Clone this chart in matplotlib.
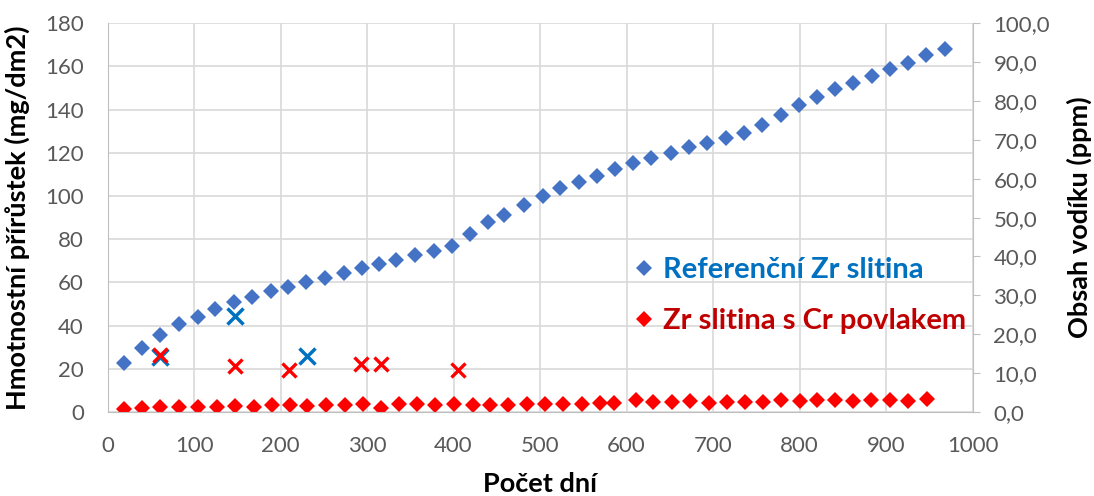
import matplotlib.pyplot as plt
from matplotlib.ticker import FuncFormatter

plt.rcParams['font.family'] = ['Lato', 'DejaVu Sans']

# hmotnostni prirustek - referencni Zr slitina
ref_days = [19, 40, 61, 83, 104, 124, 146, 167, 189, 209, 230, 251, 273, 294, 314,
            334, 356, 377, 398, 419, 440, 458, 482, 503, 523, 545, 566, 587, 607,
            628, 651, 672, 693, 715, 736, 757, 779, 799, 820, 841, 862, 884, 905,
            925, 946, 968]
ref_gain = [22.5, 29.8, 35.6, 40.7, 44.1, 47.8, 50.9, 53.2, 55.9, 57.7, 60.0, 62.2,
            64.2, 66.5, 68.5, 70.4, 72.5, 74.7, 77.0, 82.5, 87.8, 91.2, 95.8, 100.0,
            103.6, 106.3, 109.4, 112.3, 115.1, 117.4, 119.8, 122.5, 124.7, 126.7,
            129.3, 132.9, 137.5, 142.1, 145.7, 149.4, 152.5, 155.7, 158.8, 161.7,
            165.3, 167.9]

# hmotnostni prirustek - Zr slitina s Cr povlakem
cr_days = [19, 40, 61, 83, 104, 126, 147, 169, 190, 211, 231, 253, 275, 295, 316,
           337, 358, 379, 401, 422, 442, 463, 485, 506, 526, 548, 569, 586, 611,
           631, 653, 673, 695, 716, 737, 758, 779, 800, 820, 841, 862, 883, 905,
           925, 947]
cr_gain = [1.2, 1.7, 2.2, 2.2, 2.5, 2.5, 2.8, 2.5, 3.1, 3.1, 2.8, 3.4, 3.4, 3.7, 2.0,
           3.7, 3.7, 3.4, 3.7, 3.4, 3.3, 3.4, 3.9, 3.9, 3.9, 3.9, 4.3, 4.3, 5.6,
           4.5, 4.5, 5.1, 4.3, 4.5, 4.5, 4.8, 5.7, 5.1, 5.7, 5.7, 5.1, 5.4, 5.4,
           5.1, 5.9]

# obsah vodiku (ppm)
ref_h_days = [61, 147, 231]
ref_h = [14.1, 24.8, 14.5]
cr_h_days = [61, 147, 210, 293, 316, 405]
cr_h = [14.7, 11.9, 10.8, 12.3, 12.3, 10.8]

gray = '#595959'

fig = plt.figure(figsize=(10.94, 4.96), dpi=100)
ax = fig.add_axes([0.0983, 0.1694, 0.7907, 0.7838])
ax2 = ax.twinx()

ax.plot(ref_days, ref_gain, 'D', color='#4472C4', ms=8.5, mew=0,
        label='Referenční Zr slitina')
ax.plot(cr_days, cr_gain, 'D', color='#FF0000', ms=8.5, mew=0,
        label='Zr slitina s Cr povlakem')

ax2.plot(ref_h_days, ref_h, 'x', color='#0070C0', ms=12, mew=2.5)
ax2.plot(cr_h_days, cr_h, 'x', color='#FF0000', ms=10, mew=2.4)

ax.set_xlim(0, 1000)
ax.set_ylim(0, 180)
ax2.set_ylim(0, 100)
ax.set_xticks(range(0, 1001, 100))
ax.set_yticks(range(0, 181, 20))
ax2.set_yticks(range(0, 101, 10))
ax2.yaxis.set_major_formatter(FuncFormatter(lambda v, p: f'{v:.1f}'.replace('.', ',')))

ax.grid(True, color='#D9D9D9', linewidth=1.2)
ax.set_axisbelow(True)
for a in (ax, ax2):
    for s in a.spines.values():
        s.set_visible(False)
ax.spines['left'].set_visible(True)
ax.spines['left'].set_color('#BFBFBF')
ax.spines['bottom'].set_visible(True)
ax.spines['bottom'].set_color('#BFBFBF')
ax2.spines['right'].set_visible(True)
ax2.spines['right'].set_color('#BFBFBF')

ax.tick_params(axis='both', length=0, labelsize=16, labelcolor=gray, pad=17)
ax2.tick_params(axis='y', length=5, color='#BFBFBF', labelsize=16, labelcolor=gray, pad=10)

ax.set_xlabel('Počet dní', fontsize=19.5, fontweight='bold', labelpad=12)
ax.set_ylabel('Hmotnostní přírůstek (mg/dm2)', fontsize=19.5, fontweight='bold', labelpad=11)
ax2.set_ylabel('Obsah vodíku (ppm)', fontsize=19.5, fontweight='bold', labelpad=12)

leg = ax.legend(loc='center left', bbox_to_anchor=(0.61, 0.30), frameon=False,
                prop={'weight': 'bold', 'size': 21}, labelcolor=['#0070C0', '#C00000'],
                handletextpad=0.35, labelspacing=0.85, borderaxespad=0, borderpad=0,
                handlelength=0.6, markerscale=1.0)
ax2.set_zorder(ax.get_zorder() + 1)

fig.savefig('out.png', dpi=100)
